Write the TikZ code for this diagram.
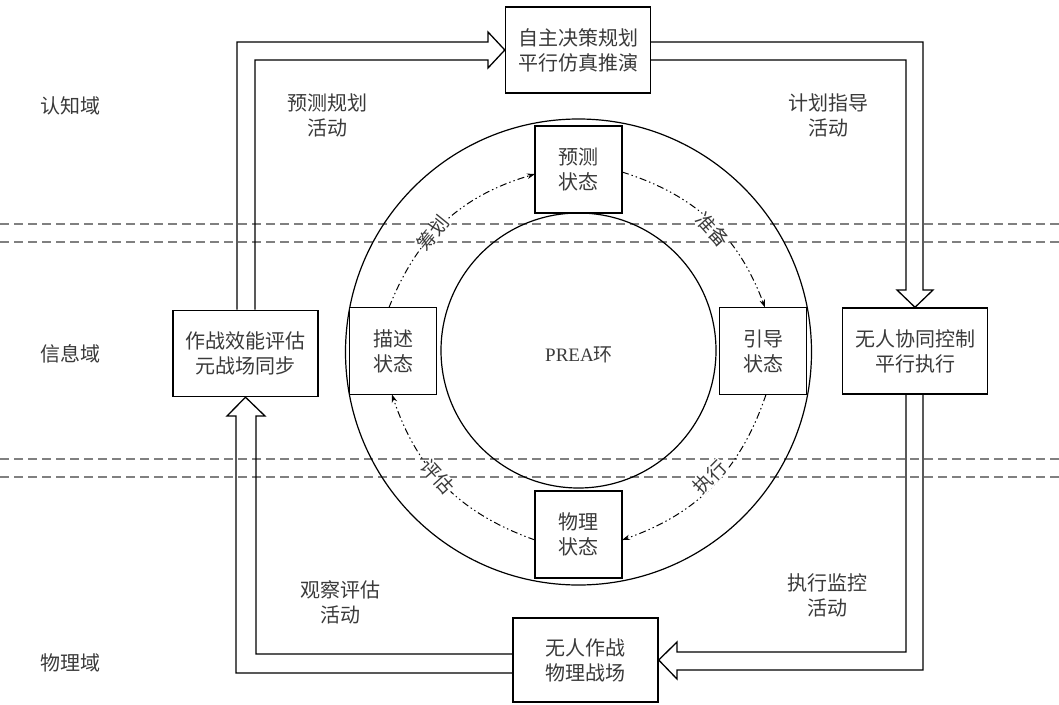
\documentclass[tikz,border=0pt]{standalone}
\usepackage{fontspec}
\setmainfont{Liberation Serif}
\newfontfamily\cjk{Noto Sans CJK SC}
\usetikzlibrary{arrows.meta}
\definecolor{txt}{HTML}{3A3A3A}
\definecolor{dline}{HTML}{808080}
\tikzset{
  bigbox/.style={draw, line width=1.4pt, fill=white, minimum width=145pt, minimum height=86pt, inner sep=0pt, align=center, text=txt, font=\cjk\fontsize{20}{25}\selectfont},
  statebox/.style={draw, line width=1.1pt, fill=white, minimum width=87pt, minimum height=87pt, inner sep=0pt, align=center, text=txt, font=\cjk\fontsize{20}{25}\selectfont},
  lbl/.style={align=center, text=txt, font=\cjk\fontsize{20}{25}\selectfont},
  arclbl/.style={fill=white, inner sep=0pt, text=txt, font=\cjk\fontsize{19}{22}\selectfont},
  hollow/.style={draw, line width=1.3pt, line join=miter},
  ring/.style={line width=1.2pt},
  dd/.style={line width=1pt, dash pattern=on 7pt off 3pt on 1.4pt off 3pt on 1.4pt off 3pt, -{Stealth[length=8pt,width=5.5pt]}},
  domline/.style={dline, line width=1.3pt, dash pattern=on 9pt off 5pt}
}
\begin{document}
\begin{tikzpicture}[x=1pt,y=-1pt]
\useasboundingbox (0,0) rectangle (1059,704);

% domain separators
\draw[domline] (0,224) -- (1059,224);
\draw[domline] (0,242) -- (1059,242);
\draw[domline] (0,459) -- (1059,459);
\draw[domline] (0,477) -- (1059,477);

% domain names
\node[lbl] (dcog) at (70,106) {认知域};
\node[lbl] (dinf) at (70,354) {信息域};
\node[lbl] (dphy) at (70,663) {物理域};

% rings
\draw[ring] (578.5,352) circle[radius=233];
\draw[ring] (578.5,350.5) circle[radius=137.5];
\node[text=txt, font=\fontsize{19}{22}\selectfont] (prea) at (579,355) {PREA{\cjk 环}};

% main boxes
\node[bigbox] (top) at (578,50) {自主决策规划\\平行仿真推演};
\node[bigbox] (left) at (245.5,353.5) {作战效能评估\\元战场同步};
\node[bigbox] (right) at (915,351) {无人协同控制\\平行执行};
\node[bigbox, minimum height=84pt] (bot) at (585.5,660) {无人作战\\物理战场};

% state boxes
\node[statebox] (pre) at (578.5,169.5) {预测\\状态};
\node[statebox] (des) at (393,351) {描述\\状态};
\node[statebox] (gui) at (763,351) {引导\\状态};
\node[statebox] (phy) at (578.5,534.5) {物理\\状态};

% hollow big arrows
\draw[hollow] (237,309.5) -- (237,42) -- (488,42) -- (488,32) -- (top.west) -- (488,68) -- (488,60) -- (255,60) -- (255,309.5);
\draw[hollow] (650.5,42) -- (923,42) -- (923,290) -- (933,290) -- (right.north) -- (897,290) -- (906,290) -- (906,60) -- (650.5,60);
\draw[hollow] (923,394) -- (923,670) -- (677,670) -- (677,679) -- (bot.east) -- (677,642) -- (677,652) -- (906,652) -- (906,394);
\draw[hollow] (513,673) -- (236,673) -- (236,416) -- (227,416) -- (left.south) -- (265,416) -- (256,416) -- (256,654) -- (513,654);

% activity labels
\node[lbl] (a1) at (327,115) {预测规划\\活动};
\node[lbl] (a2) at (828,115) {计划指导\\活动};
\node[lbl] (a3) at (340,602) {观察评估\\活动};
\node[lbl] (a4) at (827,595) {执行监控\\活动};

% PREA loop arcs
\coordinate (s1) at (389,307.5);
\coordinate (e1) at (535,174);
\coordinate (s2) at (622,172);
\coordinate (e2) at (765,307.5);
\coordinate (s3) at (766,394.5);
\coordinate (e3) at (622,540);
\coordinate (s4) at (535,540);
\coordinate (e4) at (392,394.5);
\draw[dd] (s1) to[bend left=26] (e1);
\draw[dd] (s2) to[bend left=26] (e2);
\draw[dd] (s3) to[bend left=26] (e3);
\draw[dd] (s4) to[bend left=26] (e4);

\node[arclbl, rotate=51] (l1) at (433,233) {筹划};
\node[arclbl, rotate=-48] (l2) at (713,230) {准备};
\node[arclbl, rotate=46] (l3) at (710,477) {执行};
\node[arclbl, rotate=-48] (l4) at (438,477) {评估};
\end{tikzpicture}
\end{document}
